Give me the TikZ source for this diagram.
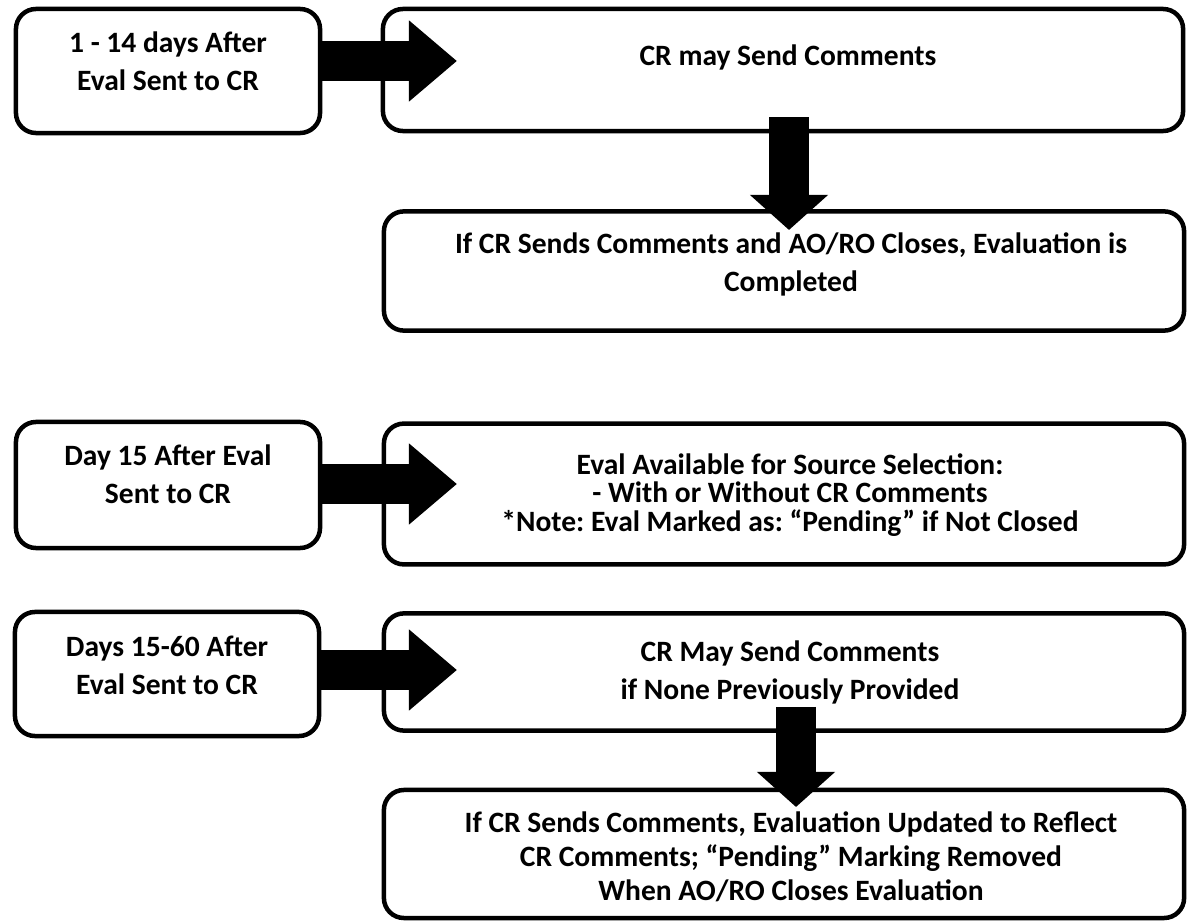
\documentclass[tikz,border=0pt]{standalone}
\usepackage{fontspec}
\setmainfont{Carlito}
\frenchspacing
\usetikzlibrary{arrows.meta,calc}

\tikzset{
  boxframe/.style={draw=black, line width=3.2pt, rounded corners=0.5cm, fill=white, inner sep=0pt},
  period/.style={boxframe, minimum width=7.6cm},
  action/.style={boxframe, minimum width=20cm},
  txt/.style={align=center, inner sep=0pt, font=\fontsize{21}{#1}\selectfont\bfseries},
  txt/.default=27pt,
  harrow/.style={line width=1cm, -{Triangle[width=1.95cm,length=1.2cm]}},
  varrow/.style={line width=1cm, -{Triangle[width=1.9cm,length=0.875cm]}},
}

\begin{document}
\begin{tikzpicture}[x=0.025cm, y=-0.025cm]
        \useasboundingbox (0,0) rectangle (1189,924);
        % left column
        \node[period, minimum height=3.1cm] (A) at (168,71) {};
        \node[period, minimum height=3.15cm] (D) at (168,485) {};
        \node[period, minimum height=3.1cm] (F) at (167,674) {};
        \node[txt] (tA) at (168,61) {1 - 14 days After\\Eval Sent to CR};
        \node[txt] (tD) at (168,474) {Day 15 After Eval\\Sent to CR};
        \node[txt] (tF) at (167,665) {Days 15-60 After\\Eval Sent to CR};
        % right column
        \node[action, minimum height=3.05cm] (B) at (783,70) {};
        \node[action, minimum height=2.98cm] (C) at (784,271) {};
        \node[action, minimum height=3.52cm] (E) at (784,494) {};
        \node[action, minimum height=2.93cm] (G) at (784,672) {};
        \node[action, minimum height=3.2cm] (H) at (784,854) {};
        \node[txt] (tB) at (788,57) {CR may Send Comments};
        \node[txt] (tC) at (791,264) {If CR Sends Comments and AO/RO Closes, Evaluation is\\Completed};
        \node[txt=20.5pt] (tE) at (790,495) {Eval Available for Source Selection:\\- With or Without CR Comments\\*Note: Eval Marked as: “Pending” if Not Closed};
        \node[txt] (tG) at (790,672) {CR May Send Comments\\if None Previously Provided};
        \node[txt=24pt] (tH) at (791,857) {If CR Sends Comments, Evaluation Updated to Reflect\\CR Comments; “Pending” Marking Removed\\When AO/RO Closes Evaluation};
        % arrows
        \coordinate (hB) at (457,61);
        \coordinate (hE) at (457,484);
        \coordinate (hG) at (457,670);
        \coordinate (dC) at (789,230);
        \coordinate (dH) at (796,807);
        \draw[harrow] (A.east |- hB) -- (hB);
        \draw[harrow] (D.east |- hE) -- (hE);
        \draw[harrow] (F.east |- hG) -- (hG);
        \draw[varrow] ($(B.south -| dC)+(0,-16)$) -- (dC);
        \draw[varrow] ($(G.south -| dH)+(0,-26)$) -- (dH);
\end{tikzpicture}
\end{document}
